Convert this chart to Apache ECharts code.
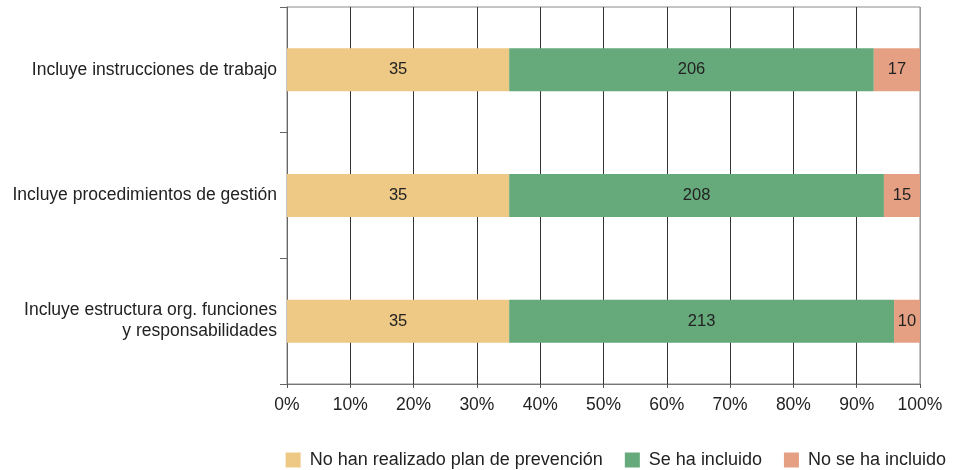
<!DOCTYPE html>
<html><head><meta charset="utf-8">
<script src="https://cdn.jsdelivr.net/npm/echarts@6/dist/echarts.min.js"></script>
<style>html,body{margin:0;padding:0;background:#fff}#c{width:953px;height:470px}</style>
</head><body><div id="c"></div>
<script>
var categories = ['Incluye instrucciones de trabajo', 'Incluye procedimientos de gestión', 'Incluye estructura org. funciones\ny responsabilidades'];
var seriesNames = ['No han realizado plan de prevención', 'Se ha incluido', 'No se ha incluido'];
// bar lengths (% of axis)
var pctNoPlan = [35.1, 35.1, 35.1];
var pctIncluido = [57.6, 59.2, 60.8];
var pctNoIncluido = [7.3, 5.7, 4.1];
// counts shown as labels
var cntNoPlan = [35, 35, 35];
var cntIncluido = [206, 208, 213];
var cntNoIncluido = [17, 15, 10];
var xTicks = [0, 10, 20, 30, 40, 50, 60, 70, 80, 90, 100];

var colors = ['#EDC985', '#66A97B', '#E5A084'];
var font = 'Liberation Sans, Arial, Helvetica, sans-serif';
function mk(name, vals, cnts, color) {
  return {
    name: name, type: 'bar', stack: 'all', barWidth: 43,
    itemStyle: { color: color },
    label: { show: true, position: 'inside', color: '#222', fontSize: 16.5, fontFamily: font,
      formatter: function (p) { return cnts[p.dataIndex]; } },
    data: vals
  };
}
var chart = echarts.init(document.getElementById('c'), null, { renderer: 'canvas' });
var splitColors = xTicks.map(function (t, i) { return i === xTicks.length - 1 ? '#9a9a9a' : '#333'; });
chart.setOption({
  animation: false,
  backgroundColor: '#fff',
  grid: { left: 287, right: 33, top: 7, bottom: 86, show: true, borderColor: '#8a8a8a', borderWidth: 1, containLabel: false },
  xAxis: {
    type: 'value', min: 0, max: 100, interval: 10,
    axisLine: { show: true, lineStyle: { color: '#777', width: 1 } },
    axisTick: { show: true, length: 4, lineStyle: { color: '#555' } },
    axisLabel: { color: '#222', fontSize: 17.5, fontFamily: font, margin: 12,
      formatter: function (v) { return v + '%'; } },
    splitLine: { show: true, lineStyle: { color: splitColors, width: 1 } }
  },
  yAxis: {
    type: 'category', data: categories, inverse: true,
    axisLine: { show: true, lineStyle: { color: '#666', width: 1 } },
    axisTick: { show: true, length: 7, lineStyle: { color: '#666' } },
    axisLabel: { color: '#222', fontSize: 17.5, fontFamily: font, margin: 10, lineHeight: 21, align: 'right' }
  },
  legend: {
    top: 446, right: 2, itemWidth: 15, itemHeight: 15, itemGap: 22,
    icon: 'rect',
    textStyle: { color: '#222', fontSize: 18, fontFamily: font, padding: [0, 0, 0, 4] },
    data: seriesNames
  },
  series: [
    mk(seriesNames[0], pctNoPlan, cntNoPlan, colors[0]),
    mk(seriesNames[1], pctIncluido, cntIncluido, colors[1]),
    mk(seriesNames[2], pctNoIncluido, cntNoIncluido, colors[2])
  ]
});
</script></body></html>
